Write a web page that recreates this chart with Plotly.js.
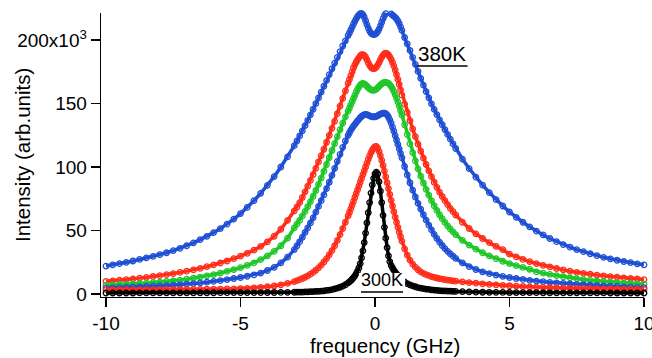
<!DOCTYPE html>
<html>
<head>
<meta charset="utf-8">
<script src="https://cdn.plot.ly/plotly-3.0.1.min.js"></script>
<style>html,body{margin:0;padding:0;background:#fff;}#chart{width:652px;height:358px;}</style>
</head>
<body>
<div id="chart"></div>
<script>
// frequency grid (GHz)
var freq = [-10,-9.75,-9.5,-9.25,-9,-8.75,-8.5,-8.25,-8,-7.75,-7.5,-7.25,-7,-6.75,-6.5,-6.25,-6,-5.75,-5.5,-5.25,-5,-4.75,-4.5,-4.25,-4,-3.75,-3.5,-3.25,-3,
-2.9,-2.8,-2.7,-2.6,-2.5,-2.4,-2.3,-2.2,-2.1,-2,-1.9,-1.8,-1.7,-1.6,-1.5,-1.4,-1.3,-1.2,-1.1,
-1,-0.95,-0.9,-0.85,-0.8,-0.75,-0.7,-0.65,-0.6,-0.55,-0.5,-0.45,-0.4,-0.35,-0.3,-0.25,-0.2,-0.15,-0.1,-0.05,0,0.05,0.1,0.15,0.2,0.25,0.3,0.35,0.4,0.45,0.5,0.55,0.6,0.65,0.7,0.75,0.8,0.85,0.9,0.95,1,
1.1,1.2,1.3,1.4,1.5,1.6,1.7,1.8,1.9,2,2.1,2.2,2.3,2.4,2.5,2.6,2.7,2.8,2.9,
3,3.25,3.5,3.75,4,4.25,4.5,4.75,5,5.25,5.5,5.75,6,6.25,6.5,6.75,7,7.25,7.5,7.75,8,8.25,8.5,8.75,9,9.25,9.5,9.75,10];

// intensities in units of 10^3
var blue380 = [22.0,22.9,23.9,24.9,26.0,27.2,28.4,29.7,31.0,32.5,34.2,36.0,38.0,40.3,42.8,45.4,48.3,51.5,55.0,59.0,63.3,68.2,73.5,79.3,85.6,92.4,100.0,108.0,116.8,
120.6,124.5,128.5,132.6,136.8,141.1,145.5,149.9,154.4,159.0,163.6,168.2,172.8,177.4,181.9,186.4,190.9,195.3,199.4,
203.5,205.6,207.9,210.2,212.5,214.7,216.7,218.5,219.9,220.8,221.0,220.0,218.0,215.2,212.2,209.4,207.1,205.5,204.6,204.2,204.4,205.2,206.6,208.6,211.1,214.0,216.9,219.2,220.8,221.6,221.8,221.4,220.6,219.7,218.8,217.8,216.6,215.0,212.9,210.4,207.6,
202.0,197.0,191.8,186.4,180.9,175.3,169.8,164.5,159.4,154.5,149.8,145.4,141.2,137.2,133.3,129.5,125.7,121.9,118.2,
114.6,106.3,98.8,92.0,85.7,79.9,74.4,69.3,64.6,60.4,56.5,52.9,49.5,46.5,43.7,41.2,38.9,36.9,35.0,33.3,31.7,30.2,28.9,27.7,26.6,25.6,24.7,23.8,23.0];

var red2 = [10.0,10.4,10.9,11.4,11.9,12.5,13.1,13.8,14.5,15.3,16.1,17.0,18.0,19.0,20.2,21.5,22.9,24.4,26.0,27.8,29.8,32.0,34.5,37.5,41.0,45.5,51.0,58.0,65.5,
68.5,72.0,76.0,80.5,85.0,89.5,94.0,99.0,104.0,109.0,114.0,119.5,125.0,130.5,136.0,142.0,148.0,154.0,160.0,
166.0,169.0,172.0,175.0,178.0,180.5,182.5,184.5,186.0,187.5,188.5,188.5,188.0,186.5,184.5,182.0,180.0,178.5,177.8,177.5,177.8,178.7,180.2,182.2,184.4,186.5,188.2,189.3,189.7,189.3,188.3,186.8,184.8,182.4,179.6,176.4,172.8,169.0,165.0,160.8,156.6,
149.5,143.0,136.5,130.0,124.0,118.0,112.5,107.0,102.0,97.0,92.5,88.0,84.0,80.3,76.8,73.5,70.4,67.5,64.8,
62.2,56.5,51.6,47.4,43.7,40.4,37.5,34.9,31.4,29.2,27.2,25.5,24.0,22.6,21.3,20.1,19.0,18.0,17.1,16.3,15.6,14.9,14.3,13.7,13.2,12.7,12.2,11.8,11.4];

var green3 = [6.9,7.1,7.3,7.6,7.9,8.2,8.6,9.0,9.4,9.9,10.4,11.0,11.7,12.5,13.3,14.3,15.3,16.5,17.8,19.2,20.7,22.5,24.5,27.0,30.0,33.5,38.0,44.0,52.0,
55.0,58.0,61.5,65.0,68.8,72.8,77.0,81.5,86.3,91.3,96.5,102.0,107.5,113.0,118.5,124.0,129.5,134.5,139.5,
144.0,146.5,149.0,151.5,154.0,156.5,159.0,161.2,163.0,164.5,165.5,165.8,165.5,164.7,163.6,162.5,161.5,160.8,160.5,160.4,160.7,161.4,162.4,163.5,164.6,165.5,166.2,166.6,166.7,166.5,165.9,164.9,163.5,161.7,159.5,157.0,154.3,151.3,148.0,144.5,140.8,
133.2,125.6,118.3,111.4,104.8,98.6,92.8,87.4,82.4,77.8,73.5,69.5,65.8,62.4,59.3,56.4,53.7,51.2,48.9,
46.8,42.3,38.5,35.3,32.5,30.0,27.8,25.8,24.0,22.4,20.9,19.5,17.5,16.4,15.4,14.5,13.6,12.8,12.1,11.4,10.8,10.3,9.8,9.4,9.0,8.6,8.3,8.0,7.8];

var blue4 = [4.7,4.8,5.0,5.2,5.4,5.6,5.9,6.1,6.4,6.7,7.0,7.4,7.8,8.2,8.7,9.3,9.9,10.6,11.4,12.2,13.0,14.0,15.0,16.5,18.5,21.0,24.5,29.0,35.0,
38.0,41.2,44.7,48.5,52.0,56.0,60.0,64.5,69.0,73.5,78.0,83.0,88.0,93.5,99.0,104.5,110.0,115.5,120.5,
125.0,127.0,129.0,130.7,132.2,133.6,135.0,136.3,137.6,138.8,139.8,140.6,141.2,141.4,141.2,140.8,140.3,139.9,139.6,139.5,139.6,139.9,140.4,141.0,141.6,142.1,142.4,142.4,142.0,141.0,139.4,137.2,134.5,131.5,128.2,124.8,121.3,117.8,114.3,110.8,107.3,
100.4,93.8,87.6,81.8,76.4,71.4,66.8,62.4,58.2,54.2,50.5,47.0,43.8,40.9,38.2,35.8,33.6,31.6,29.8,
28.1,24.5,21.6,19.3,17.5,16.1,14.9,13.9,13.0,12.2,11.5,10.8,10.2,9.7,9.2,8.8,8.4,8.0,7.6,7.3,7.0,6.7,6.4,6.1,5.9,5.6,5.4,5.2,5.0];

var red5 = [3.4,3.4,3.4,3.4,3.5,3.5,3.5,3.5,3.5,3.6,3.6,3.6,3.7,3.7,3.7,3.8,3.8,3.9,4.0,4.1,4.3,4.5,4.8,5.2,5.7,6.3,7.2,8.3,9.8,
10.5,11.3,12.2,13.2,14.3,15.6,17.0,18.7,20.6,22.8,25.2,27.9,30.9,34.2,38.0,42.2,46.7,51.5,56.5,
61.5,64.2,67.0,70.0,73.0,76.0,79.0,82.0,85.0,88.0,91.0,94.0,97.0,100.0,103.0,106.0,108.8,111.3,113.4,115.0,116.0,116.2,114.8,112.3,109.0,105.3,101.2,96.8,92.3,87.7,83.0,78.4,73.8,69.3,64.9,60.6,56.5,52.5,48.7,45.1,41.7,
35.6,30.6,26.7,23.6,21.1,19.1,17.5,16.2,15.2,14.4,13.7,13.1,12.6,12.1,11.7,11.3,11.0,10.7,10.4,
10.1,9.5,9.0,8.5,8.0,7.6,7.2,6.8,6.5,6.2,5.9,5.6,5.4,5.2,5.0,4.8,4.7,4.6,4.5,4.4,4.3,4.2,4.1,4.0,4.0,3.9,3.9,3.8,3.8];

var black300 = [0.8,0.8,0.8,0.8,0.8,0.85,0.85,0.85,0.9,0.9,0.9,0.95,0.95,0.95,1.0,1.0,1.0,1.05,1.05,1.1,1.1,1.1,1.15,1.15,1.2,1.2,1.25,1.3,1.4,
1.45,1.5,1.55,1.6,1.7,1.8,1.9,2.0,2.1,2.3,2.5,2.8,3.1,3.5,4.0,4.6,5.3,6.2,7.3,
8.7,9.5,10.5,11.6,12.9,14.3,16.0,18.0,20.5,24.0,28.5,34.0,40.5,48.0,56.0,64.0,72.0,79.5,86.0,91.0,94.5,96.0,94.5,88.5,81.0,72.0,62.0,52.5,44.0,36.5,30.0,25.5,22.5,20.5,18.8,17.2,15.8,14.5,13.3,12.2,11.2,
9.5,8.2,7.2,6.4,5.7,5.1,4.6,4.2,3.9,3.6,3.3,3.1,2.9,2.7,2.5,2.4,2.3,2.2,2.1,
2.0,1.8,1.65,1.5,1.4,1.35,1.3,1.25,1.2,1.15,1.1,1.1,1.05,1.0,1.0,0.95,0.95,0.9,0.9,0.9,0.85,0.85,0.85,0.8,0.8,0.8,0.8,0.8,0.8];

var seriesList = [blue380, red2, green3, blue4, red5, black300];
var seriesColors = ['#1f4fd4', '#ff2d1a', '#20c72a', '#1f4fd4', '#ff2d1a', '#000000'];

var xTicks = [-10, -5, 0, 5, 10];
var yTicks = [0, 50, 100, 150, 200];
var yTickText = ['0', '50', '100', '150', '200x10<sup>3</sup>'];

var FONT = 'Liberation Sans, Arial, Helvetica, sans-serif';

var traces = seriesList.map(function (ys, i) {
  return {
    type: 'scatter',
    mode: 'lines+markers',
    x: freq,
    y: ys,
    cliponaxis: false,
    line: {color: seriesColors[i], width: 3.5},
    marker: {symbol: 'circle-open', size: 5.5, color: seriesColors[i], line: {width: 1.3, color: seriesColors[i]}},
    hoverinfo: 'skip',
    showlegend: false
  };
});

var layout = {
  width: 652,
  height: 358,
  margin: {l: 101, r: 8, t: 13, b: 61, pad: 0},
  paper_bgcolor: '#ffffff',
  plot_bgcolor: '#ffffff',
  showlegend: false,
  font: {family: FONT, color: '#000', size: 19},
  xaxis: {
    range: [-10.186, 10],
    tickvals: xTicks,
    ticktext: xTicks.map(String),
    ticks: 'outside', ticklen: 9, tickwidth: 1.3, tickcolor: '#000',
    showline: true, linewidth: 1.3, linecolor: '#000',
    showgrid: false, zeroline: false,
    tickfont: {family: FONT, size: 19, color: '#000'},
    ticklabeloverflow: 'allow',
    automargin: false
  },
  yaxis: {
    range: [-2.36, 221.3],
    tickvals: yTicks,
    ticktext: yTickText,
    ticks: 'outside', ticklen: 9, tickwidth: 1.3, tickcolor: '#000',
    showline: true, linewidth: 1.3, linecolor: '#000',
    showgrid: false, zeroline: false,
    tickfont: {family: FONT, size: 19, color: '#000'},
    automargin: false
  },
  shapes: [
    {type: 'rect', xref: 'x', yref: 'y', x0: -0.6, x1: 1.12, y0: 1.6, y1: 16.5, fillcolor: '#ffffff', line: {width: 0}, layer: 'above'},
    {type: 'line', xref: 'x', yref: 'y', x0: -0.52, x1: 1.04, y0: 1.6, y1: 1.6, line: {color: '#000', width: 1.5}, layer: 'above'},
    {type: 'line', xref: 'x', yref: 'y', x0: 1.57, x1: 3.44, y0: 179.5, y1: 179.5, line: {color: '#000', width: 1.5}, layer: 'above'}
  ],
  annotations: [
    {text: 'Intensity (arb.units)', xref: 'paper', yref: 'paper', x: -0.1455, y: 0.5, xanchor: 'center', yanchor: 'middle', textangle: -90, showarrow: false, font: {family: FONT, size: 20.5, color: '#000'}},
    {text: 'frequency (GHz)', xref: 'paper', yref: 'paper', x: 0.523, y: -0.17, xanchor: 'center', yanchor: 'middle', showarrow: false, font: {family: FONT, size: 20.5, color: '#000'}},
    {text: '380K', xref: 'x', yref: 'y', x: 2.49, y: 189.2, xanchor: 'center', yanchor: 'middle', showarrow: false, font: {family: FONT, size: 20.5, color: '#000'}},
    {text: '300K', xref: 'x', yref: 'y', x: 0.26, y: 10.8, xanchor: 'center', yanchor: 'middle', showarrow: false, font: {family: FONT, size: 18, color: '#000'}}
  ]
};

Plotly.newPlot('chart', traces, layout, {staticPlot: true, displayModeBar: false});
</script>
</body>
</html>
